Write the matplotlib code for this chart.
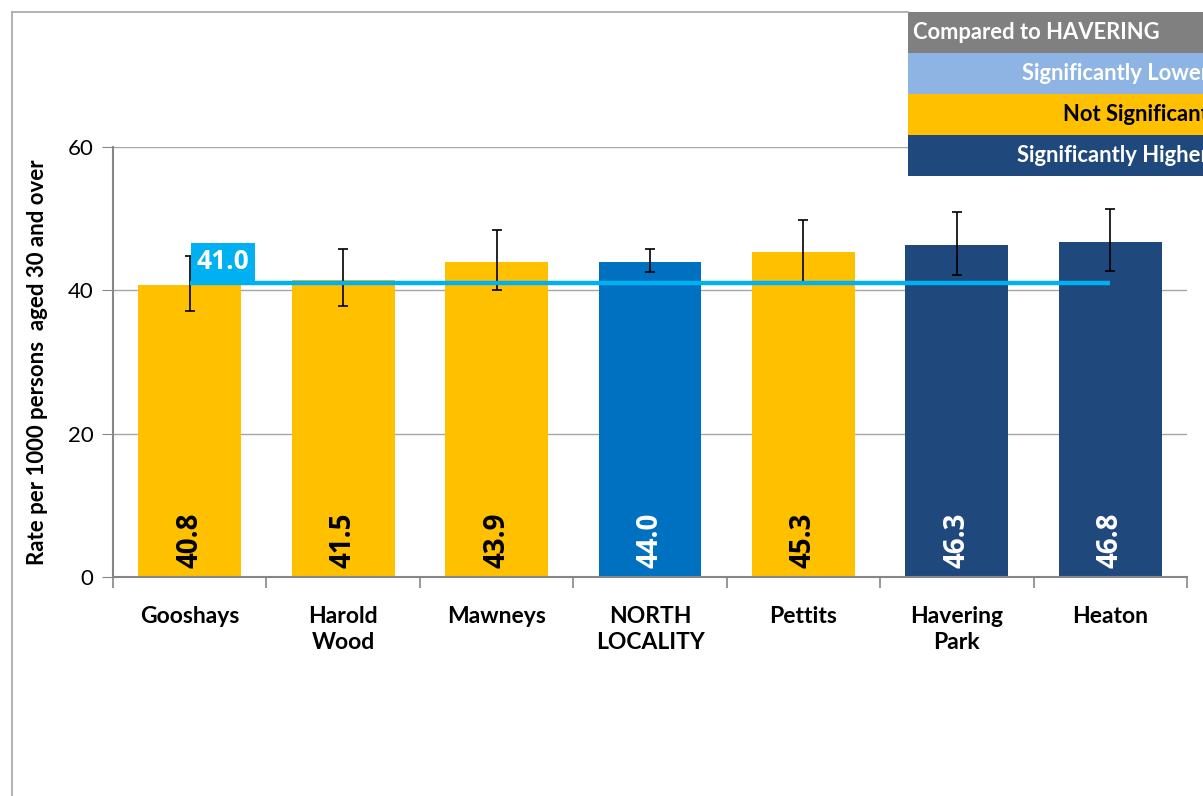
import matplotlib
matplotlib.use('Agg')
import matplotlib.pyplot as plt
from matplotlib.patches import Rectangle
import numpy as np

plt.rcParams['font.family'] = ['Lato', 'DejaVu Sans']
NUM_FONT = ['Open Sans', 'DejaVu Sans']

# ward rates per 1000 persons aged 30+, with 95% confidence limits
wards = ['Gooshays', 'Harold\nWood', 'Mawneys', 'NORTH\nLOCALITY', 'Pettits', 'Havering\nPark', 'Heaton']
rates = [40.8, 41.5, 43.9, 44.0, 45.3, 46.3, 46.8]
lower_ci = [37.1, 37.8, 40.0, 42.6, 41.2, 42.1, 42.7]
upper_ci = [44.8, 45.8, 48.4, 45.8, 49.8, 50.9, 51.3]
significance = ['not', 'not', 'not', 'locality', 'not', 'higher', 'higher']
havering_rate = 41.0

legend_rows = ['Compared to HAVERING', 'Significantly Lower', 'Not Significant', 'Significantly Higher']

colours = {'lower': '#8DB4E2', 'not': '#FFC000', 'higher': '#1F497D', 'locality': '#0070C0'}
text_colours = {'lower': 'white', 'not': 'black', 'higher': 'white', 'locality': 'white'}

W, H = 1203, 796
def fx(px): return px / W
def fy(py): return 1 - py / H

fig = plt.figure(figsize=(W / 100, H / 100), dpi=100)
ax = fig.add_axes([fx(113), fy(577), fx(1187) - fx(113), fy(147) - fy(577)])

x = np.arange(len(wards))
bar_cols = [colours[s] for s in significance]
ax.bar(x, rates, width=0.67, color=bar_cols, zorder=2)

yerr = [np.array(rates) - np.array(lower_ci), np.array(upper_ci) - np.array(rates)]
ax.errorbar(x, rates, yerr=yerr, fmt='none', ecolor='black', elinewidth=1.2,
            capsize=3.6, capthick=1.2, zorder=3)

# borough average line with its value box
ax.plot([x[0], x[-1]], [havering_rate, havering_rate], color='#00B0F0', lw=3.2,
        solid_capstyle='butt', zorder=4)
ax.text(x[0] + 0.045, havering_rate + 1.1, '%.1f' % havering_rate, color='white', fontsize=19,
        fontweight='bold', family=NUM_FONT, ha='left', va='bottom', zorder=5,
        bbox=dict(boxstyle='square,pad=0.2', fc='#00B0F0', ec='none'))

# value labels inside the bars
for xi, r, s in zip(x, rates, significance):
    ax.text(xi, 1.3, '%.1f' % r, rotation=90, ha='center', va='bottom', family=NUM_FONT,
            fontsize=20, fontweight='bold', color=text_colours[s], zorder=5)

ax.set_xlim(-0.5, len(wards) - 0.5)
ax.set_ylim(0, 60)
ax.set_yticks([0, 20, 40, 60])
ax.yaxis.grid(True, color='#A6A6A6', lw=1.0, zorder=0)
ax.set_axisbelow(True)
ax.tick_params(axis='y', length=8, color='#868686', labelsize=16, pad=6)

ax.set_xticks(x)
ax.set_xticklabels(wards, fontsize=16.5, fontweight='bold', linespacing=1.3)
ax.tick_params(axis='x', which='major', length=0, pad=21)
ax.set_xticks(np.arange(-0.5, len(wards)), minor=True)
ax.tick_params(axis='x', which='minor', length=8, color='#868686', width=1.2)

for side in ['top', 'right']:
    ax.spines[side].set_visible(False)
for side in ['left', 'bottom']:
    ax.spines[side].set_color('#868686')
    ax.spines[side].set_linewidth(1.5)

fig.text(fx(38), fy(362), 'Rate per 1000 persons  aged 30 and over',
         rotation=90, ha='center', va='center', fontsize=16, fontweight='bold')

# outer chart frame
fig.add_artist(plt.Line2D([fx(12), fx(12)], [fy(12), 0], color='#A6A6A6', lw=1.2))
fig.add_artist(plt.Line2D([fx(12), fx(908)], [fy(12), fy(12)], color='#A6A6A6', lw=1.2))

# significance key
key_cols = ['#808080', colours['lower'], colours['not'], colours['higher']]
key_text = ['white', 'white', 'black', 'white']
row_top = 12
row_h = 41
for i, (lab, c, tc) in enumerate(zip(legend_rows, key_cols, key_text)):
    top = row_top + i * row_h
    fig.add_artist(Rectangle((fx(908), fy(top + row_h)), fx(330), row_h / H,
                             transform=fig.transFigure, fc=c, ec='none'))
    if i == 0:
        fig.text(fx(913), fy(top + row_h / 2), lab, color=tc, fontsize=15.8,
                 fontweight='bold', ha='left', va='center')
    else:
        fig.text(fx(1209), fy(top + row_h / 2), lab, color=tc, fontsize=15.8,
                 fontweight='bold', ha='right', va='center')

fig.savefig('out.png', dpi=100)
